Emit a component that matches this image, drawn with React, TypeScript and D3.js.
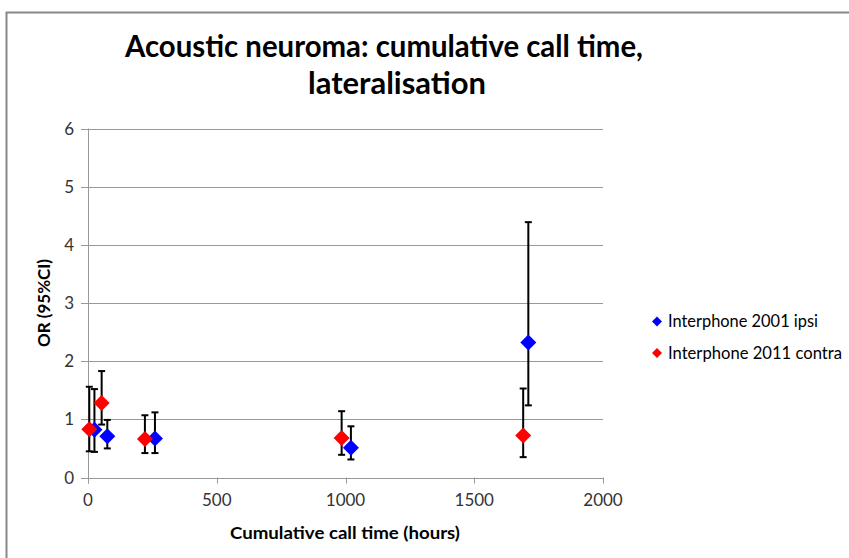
import React from "react";
import * as d3 from "d3";

const seriesNames = ["Interphone 2001 ipsi", "Interphone 2011 contra"];
const seriesColors = ["#0000FF", "#FF0000"];

// Interphone 2001 ipsi
const ipsiHours = [25, 75, 260, 1021, 1710];
const ipsiOR = [0.82, 0.71, 0.67, 0.51, 2.32];
const ipsiLow = [0.44, 0.5, 0.42, 0.31, 1.24];
const ipsiHigh = [1.52, 0.99, 1.12, 0.88, 4.39];

// Interphone 2011 contra
const contraHours = [5, 53, 221, 985, 1690];
const contraOR = [0.83, 1.28, 0.66, 0.68, 0.72];
const contraLow = [0.45, 0.91, 0.42, 0.39, 0.35];
const contraHigh = [1.56, 1.83, 1.07, 1.14, 1.53];

const xTicks = [0, 500, 1000, 1500, 2000];
const yTicks = [0, 1, 2, 3, 4, 5, 6];

const W = 849;
const H = 558;
const left = 88;
const right = 603;
const top = 128.5;
const bottom = 477.5;

const font = "Lato, 'Open Sans', sans-serif";

function diamond(cx: number, cy: number, r: number) {
  return `M${cx},${cy - r}L${cx + r},${cy}L${cx},${cy + r}L${cx - r},${cy}Z`;
}

export default function App() {
  const x = d3.scaleLinear().domain([0, 2000]).range([left, right]);
  const y = d3.scaleLinear().domain([0, 6]).range([bottom, top]);

  const series = [
    { hours: ipsiHours, or: ipsiOR, lo: ipsiLow, hi: ipsiHigh },
    { hours: contraHours, or: contraOR, lo: contraLow, hi: contraHigh },
  ];

  const cap = 3.5;
  const legendLens = [150, 174];

  return (
    <svg
      width={W}
      height={H}
      style={{ position: "absolute", left: 0, top: 0, background: "#fff" }}
    >
      <rect x={6.5} y={12.5} width={900} height={600} fill="#fff" stroke="#888" strokeWidth={2} />
      {/* title */}
      <text x={125} y={57} fontFamily={font} fontWeight="bold" fontSize={30} fill="#000"
        textLength={518} lengthAdjust="spacingAndGlyphs">
        Acoustic neuroma: cumulative call time,
      </text>
      <text x={308} y={94} fontFamily={font} fontWeight="bold" fontSize={30} fill="#000"
        textLength={178} lengthAdjust="spacingAndGlyphs">
        lateralisation
      </text>
      {/* gridlines */}
      {yTicks.map((t) => (
        <g key={"y" + t}>
          <line x1={left - 7} x2={right} y1={Math.round(y(t)) + 0.5} y2={Math.round(y(t)) + 0.5} stroke="#999" strokeWidth={1} />
          <text x={74} y={y(t) + 6} textAnchor="end" fontFamily={font} fontSize={17} fill="#333">
            {t}
          </text>
        </g>
      ))}
      {/* y axis */}
      <line x1={left + 0.5} x2={left + 0.5} y1={top} y2={bottom + 6} stroke="#999" />
      {xTicks.map((t) => (
        <g key={"x" + t}>
          <line x1={Math.round(x(t)) + 0.5} x2={Math.round(x(t)) + 0.5} y1={bottom} y2={bottom + 6} stroke="#999" />
          <text x={x(t)} y={bottom + 28} textAnchor="middle" fontFamily={font} fontSize={17} fill="#333">
            {t}
          </text>
        </g>
      ))}
      {/* axis titles */}
      <text x={230} y={539} fontFamily={font} fontWeight="bold" fontSize={17} fill="#000"
        textLength={230} lengthAdjust="spacingAndGlyphs">
        Cumulative call time (hours)
      </text>
      <text
        transform={`translate(50,303) rotate(-90)`}
        textAnchor="middle"
        fontFamily={font}
        fontWeight="bold"
        fontSize={17}
        fill="#000"
      >
        OR (95%CI)
      </text>
      {/* error bars */}
      {series.map((s, si) =>
        s.hours.map((h, i) => {
          const cx = x(h);
          return (
            <g key={`e${si}-${i}`} stroke="#000" strokeWidth={2}>
              <line x1={cx} x2={cx} y1={y(s.lo[i])} y2={y(s.hi[i])} />
              <line x1={cx - cap} x2={cx + cap} y1={y(s.lo[i])} y2={y(s.lo[i])} />
              <line x1={cx - cap} x2={cx + cap} y1={y(s.hi[i])} y2={y(s.hi[i])} />
            </g>
          );
        })
      )}
      {/* markers */}
      {series.map((s, si) =>
        s.hours.map((h, i) => (
          <path key={`m${si}-${i}`} d={diamond(x(h), y(s.or[i]), 8)} fill={seriesColors[si]} />
        ))
      )}
      {/* legend */}
      {seriesNames.map((n, i) => (
        <g key={n}>
          <path d={diamond(657, 321.5 + i * 31.5, 5)} fill={seriesColors[i]} />
          <text x={668} y={327 + i * 31.5} fontFamily={font} fontSize={16.5} fill="#000"
            textLength={legendLens[i]} lengthAdjust="spacingAndGlyphs">
            {n}
          </text>
        </g>
      ))}
    </svg>
  );
}
